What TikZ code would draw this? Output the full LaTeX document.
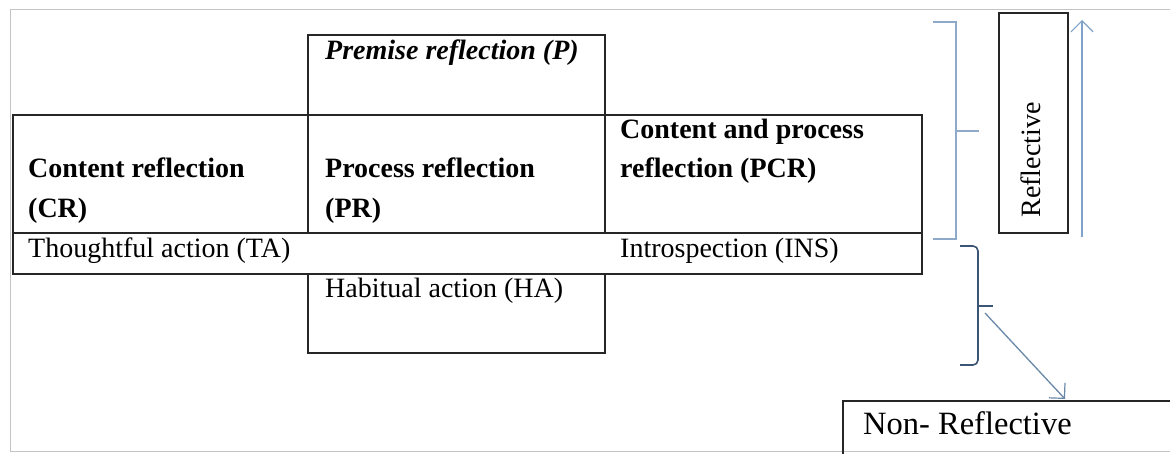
\documentclass[tikz,border=0pt]{standalone}
\usepackage{fontspec}
\setmainfont{Liberation Serif}
\usetikzlibrary{arrows.meta}
\definecolor{lightbr}{HTML}{8FAAC8}
\definecolor{upar}{HTML}{7FA2C6}
\definecolor{darkbr}{HTML}{3B5577}
\definecolor{diagar}{HTML}{6A88A8}
\definecolor{framegray}{HTML}{C4C4C4}
\tikzset{
  boxline/.style={draw=black!85, line width=1.5pt},
  lbl/.style={anchor=base west, inner sep=0pt, font=\fontsize{28}{39}\selectfont},
  blbl/.style={lbl, font=\fontsize{28}{39}\selectfont\bfseries},
  ilbl/.style={lbl, font=\fontsize{28}{39}\selectfont\bfseries\itshape},
  barb/.style={-{Straight Barb[length=11pt,width=22pt,line width=1.2pt]}},
}
\begin{document}
\begin{tikzpicture}[x=1pt,y=-1pt]
\useasboundingbox (0,0) rectangle (1170,454);
\fill[white] (0,0) rectangle (1170,454);
% outer frame
\draw[framegray, line width=1pt] (10,452) -- (10,10) -- (1175,10);
\draw[framegray, line width=1pt] (10,451.5) -- (1175,451.5);
% grid
\draw[boxline] (308,35) rectangle (605,115);
\draw[boxline] (13,115) rectangle (922,274);
\draw[boxline] (13,233) -- (922,233);
\draw[boxline] (308,115) -- (308,233);
\draw[boxline] (605,115) -- (605,233);
\draw[boxline] (308,274) rectangle (605,353);
% labels
\node[ilbl] (prem) at (325,60) {Premise reflection (P)};
\node[blbl] (cr1) at (28,178) {Content reflection};
\node[blbl] (cr2) at (28,218) {(CR)};
\node[blbl] (pr1) at (325,178) {Process reflection};
\node[blbl] (pr2) at (325,218) {(PR)};
\node[blbl] (pcr1) at (620,139) {Content and process};
\node[blbl] (pcr2) at (620,178) {reflection (PCR)};
\node[lbl] (ta) at (28,258) {Thoughtful action (TA)};
\node[lbl] (ins) at (620,258) {Introspection (INS)};
\node[lbl] (ha) at (325,298) {Habitual action (HA)};
% reflective box
\node[boxline, minimum width=69pt, minimum height=220pt, inner sep=0pt] (refbox) at (1033.5,123) {};
\node[rotate=90, inner sep=0pt, font=\fontsize{28}{33}\selectfont] (reftext) at (1031,160) {Reflective};
% up arrow
\coordinate (upS) at (1082,237);
\coordinate (upE) at (1082,20);
\draw[upar, line width=1.3pt, barb] (upS) -- (upE);
% bracket 1
\coordinate (b1tick) at (979,131);
\draw[lightbr, line width=1.3pt] (933,22) -- (956,22) -- (956,239) -- (933,239);
\draw[lightbr, line width=1.3pt] (956,131) -- (b1tick);
% bracket 2
\coordinate (b2tick) at (993,306);
\coordinate (b2s) at (985,313);
\draw[darkbr, line width=1.6pt, rounded corners=5pt] (960,246) -- (978,246) -- (978,365) -- (960,365);
\draw[darkbr, line width=1.6pt] (978,306) -- (b2tick);
% non-reflective box
\node[boxline, anchor=north west, minimum width=360pt, minimum height=80pt, inner sep=0pt] (nrbox) at (842,400) {};
\node[anchor=base west, inner sep=0pt, font=\fontsize{32.5}{36}\selectfont] (nrtext) at (863,434) {Non- Reflective};
\coordinate (nrE) at (1065,399);
\draw[diagar, line width=1.3pt, barb] (b2s) -- (nrE);
\end{tikzpicture}
\end{document}
